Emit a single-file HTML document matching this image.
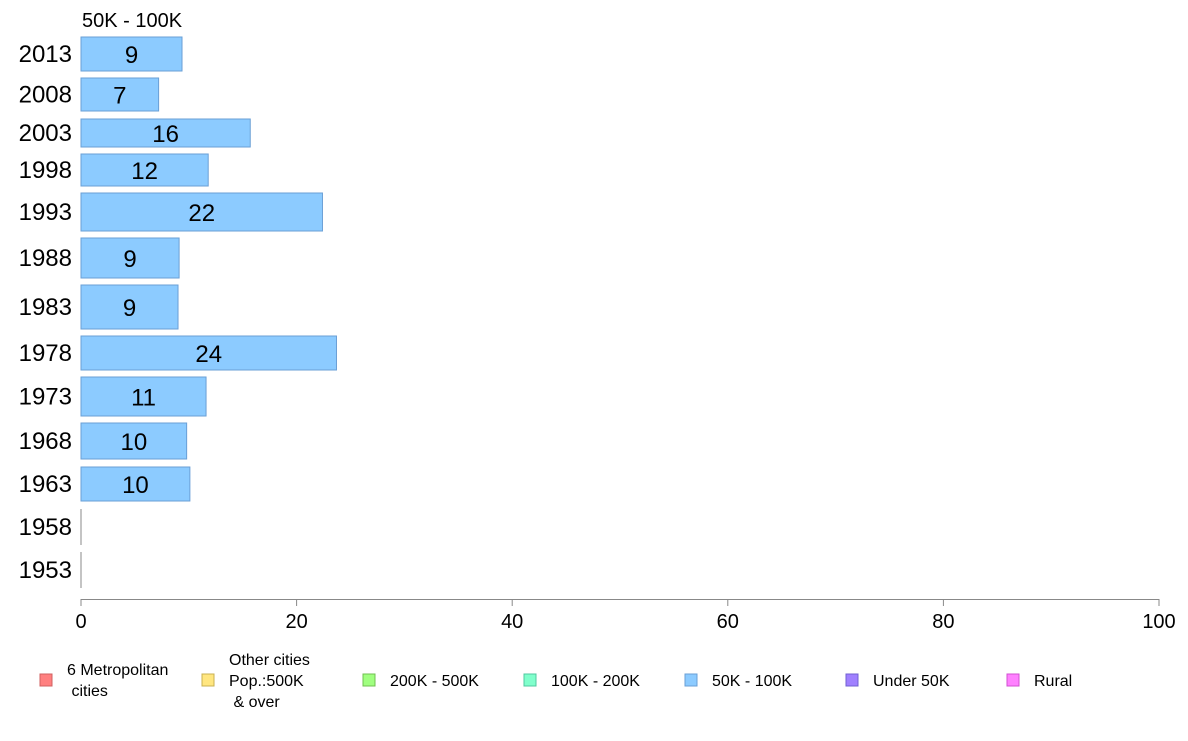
<!DOCTYPE html>
<html><head><meta charset="utf-8"><style>
body{margin:0;background:#fff;width:1188px;height:736px;overflow:hidden;font-family:"Liberation Sans",sans-serif}
</style></head><body>
<svg id="chart" width="1188" height="736" xmlns="http://www.w3.org/2000/svg" font-family="Liberation Sans, sans-serif">
<text x="82" y="27" font-size="20" fill="#000">50K - 100K</text>
<g id="bars"></g>
<g id="axis"></g>
<g id="legend"></g>
</svg>
<script>
const years=["2013","2008","2003","1998","1993","1988","1983","1978","1973","1968","1963","1958","1953"];
const values=[9.37,7.2,15.7,11.8,22.4,9.1,9.0,23.7,11.6,9.8,10.1,0,0];
const labels=["9","7","16","12","22","9","9","24","11","10","10","",""];
const ticks=[0,20,40,60,80,100];
const rowTop=[37,78,119,154,193,238,285,336,377,423,467,509,552];
const rowBot=[71,111,147,186,231,278,329,370,416,459,501,545,588];
const NS="http://www.w3.org/2000/svg";
const x0=81,x1=1159;
const xs=v=>x0+(v-0)/(100-0)*(x1-x0);
const mk=(t,a,p)=>{const e=document.createElementNS(NS,t);for(const k in a)e.setAttribute(k,a[k]);p.appendChild(e);return e;};
const bars=document.getElementById('bars');
years.forEach((y,i)=>{
  const t=rowTop[i],b=rowBot[i],mid=(t+b)/2;
  const yl=mk('text',{x:72,y:mid+8,'font-size':24,'text-anchor':'end',fill:'#000'},bars);
  yl.textContent=y;
  
  
  if(values[i]>0){
    const r=mk('rect',{x:x0,y:t,width:xs(values[i])-x0,height:b-t,fill:'#8ccbff',stroke:'#6a9fd6','stroke-width':1},bars);
    
    
    const v=mk('text',{x:(x0+xs(values[i]))/2,y:mid+9,'font-size':24,'text-anchor':'middle',fill:'#000'},bars);
    v.textContent=labels[i];
    
    
  } else {
    const l=mk('line',{x1:x0,x2:x0,y1:t,y2:b,stroke:'#888','stroke-width':1},bars);
    
    
  }
});
const ax=document.getElementById('axis');
mk('line',{x1:x0,x2:x1,y1:599.5,y2:599.5,stroke:'#888'},ax);
ticks.forEach(t=>{
  mk('line',{x1:xs(t),x2:xs(t),y1:599,y2:606,stroke:'#888'},ax);
  const tx=mk('text',{x:xs(t),y:628,'font-size':20,'text-anchor':'middle',fill:'#000'},ax);
  tx.textContent=t;
  
  
});
const legNames=[["6 Metropolitan"," cities"],["Other cities","Pop.:500K"," & over"],["200K - 500K"],["100K - 200K"],["50K - 100K"],["Under 50K"],["Rural"]];
const legCols=["#ff8080","#ffe680","#a0ff80","#80ffcc","#8ccbff","#a080ff","#ff80ff"];
const legStroke=["#d06060","#c8b050","#70c050","#50c8a0","#6a9fd6","#7060d0","#d050d0"];
const legX=[40,202,363,524,685,846,1007];
const lg=document.getElementById('legend');
legNames.forEach((n,i)=>{
  const g=mk('g',{},lg);
  
  
  mk('rect',{x:legX[i],y:674,width:12,height:12,fill:legCols[i],stroke:legStroke[i]},g);
  const start=686-(n.length-1)*10.5+ (n.length===1?0:0);
  n.forEach((s,j)=>{
    const t=mk('text',{x:legX[i]+27,y:(n.length===1?686:(n.length===2?675:665))+j*21,'font-size':16,fill:'#000','xml:space':'preserve'},g);
    t.setAttribute('style','white-space:pre');
    t.textContent=s;
  });
});
</script>
</body></html>
